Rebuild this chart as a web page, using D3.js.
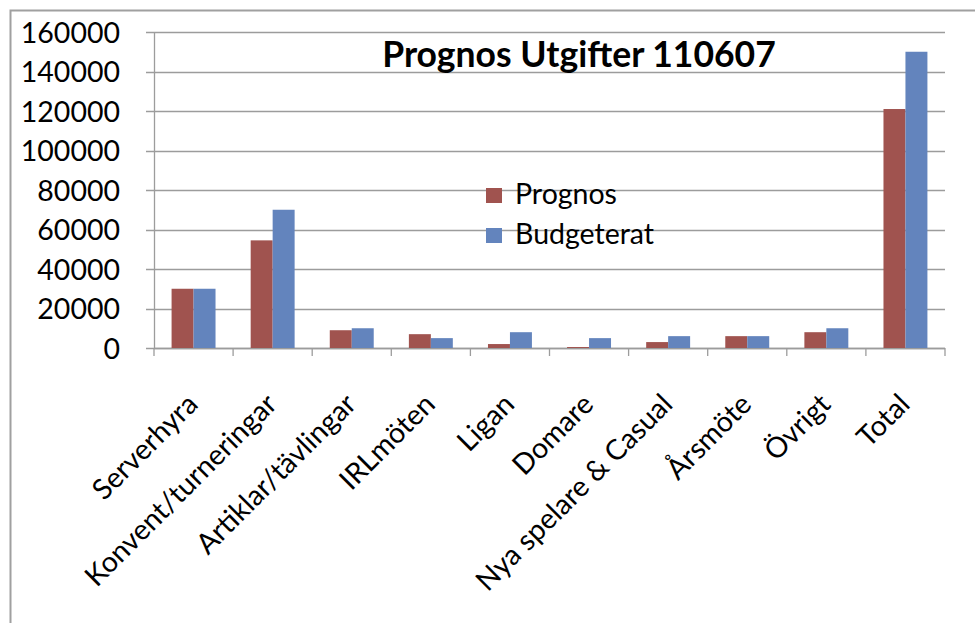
<!DOCTYPE html>
<html>
<head>
<meta charset="utf-8">
<script src="https://cdn.jsdelivr.net/npm/d3@7"></script>
<style>
  body { margin: 0; background: #fff; }
  text { font-family: Lato, "Open Sans", sans-serif; fill: #000; }
</style>
</head>
<body>
<script>
(function()
{
    // data
    var categories = ["Serverhyra", "Konvent/turneringar", "Artiklar/tävlingar", "IRLmöten",
        "Ligan", "Domare", "Nya spelare & Casual", "Årsmöte", "Övrigt", "Total"];
    var prognos = [30000, 54500, 9000, 7000, 2000, 500, 3000, 6000, 8000, 121000];
    var budgeterat = [30000, 70000, 10000, 5000, 8000, 5000, 6000, 6000, 10000, 150000];
    var seriesNames = ["Prognos", "Budgeterat"];
    var seriesColors = ["#A0534F", "#6384BD"];
    var yTicks = [0, 20000, 40000, 60000, 80000, 100000, 120000, 140000, 160000];
    var title = "Prognos Utgifter 110607";

    var w = 975, h = 623;
    var left = 154, right = 945, top = 32, bottom = 348;

    var svg = d3.select("body").append("svg")
        .attr("width", w)
        .attr("height", h);

    // outer frame
    svg.append("rect")
        .attr("x", 10.5).attr("y", 10.5)
        .attr("width", w + 20).attr("height", h + 20)
        .attr("fill", "none")
        .attr("stroke", "#a0a0a0")
        .attr("stroke-width", 2);

    var x = d3.scaleBand().domain(categories).range([left, right]);
    var xs = d3.scaleBand().domain(seriesNames)
        .range([0, x.bandwidth()]).paddingInner(0).paddingOuter(0.8);
    var y = d3.scaleLinear().domain([0, 160000]).range([bottom, top]);

    // gridlines
    svg.append("g").selectAll("line")
        .data(yTicks)
        .enter().append("line")
        .attr("x1", left - 8).attr("x2", right)
        .attr("y1", function(d) { return Math.round(y(d)) + 0.5; })
        .attr("y2", function(d) { return Math.round(y(d)) + 0.5; })
        .attr("stroke", "#9c9c9c")
        .attr("stroke-width", 1.3);

    // y axis
    var yAxis = svg.append("g")
        .attr("transform", "translate(" + left + ",0)")
        .call(d3.axisLeft(y).tickValues(yTicks).tickFormat(d3.format("d")).tickSize(0).tickPadding(34));
    yAxis.select(".domain").attr("stroke", "#9c9c9c").attr("stroke-width", 1.3);
    yAxis.selectAll("text")
        .attr("font-size", "28.5px")
        .attr("font-family", "Lato, sans-serif")
        .attr("fill", "#111")
        .attr("dy", "0.36em");

    // x axis with ticks at category boundaries
    var xg = svg.append("g");
    xg.append("line")
        .attr("x1", left).attr("x2", right)
        .attr("y1", bottom + 0.5).attr("y2", bottom + 0.5)
        .attr("stroke", "#9c9c9c").attr("stroke-width", 1.3);
    xg.selectAll("line.tick")
        .data(categories.concat(["end"]))
        .enter().append("line")
        .attr("class", "tick")
        .attr("x1", function(d, i) { return left + i * x.step(); })
        .attr("x2", function(d, i) { return left + i * x.step(); })
        .attr("y1", bottom).attr("y2", bottom + 8)
        .attr("stroke", "#9c9c9c").attr("stroke-width", 1.3);

    xg.selectAll("text")
        .data(categories)
        .enter().append("text")
        .text(function(d) { return d; })
        .attr("text-anchor", "end")
        .attr("font-size", "28.5px")
        .attr("fill", "#111")
        .attr("transform", function(d) {
            var cx = x(d) + x.bandwidth() / 2 + 6;
            return "translate(" + cx + "," + (bottom + 58) + ") rotate(-45)";
        });

    // bars
    var series = [prognos, budgeterat];
    series.forEach(function(vals, s) {
        svg.append("g").selectAll("rect")
            .data(vals)
            .enter().append("rect")
            .attr("x", function(d, i) { return x(categories[i]) + xs(seriesNames[s]); })
            .attr("y", function(d) { return y(d); })
            .attr("width", xs.bandwidth())
            .attr("height", function(d) { return bottom - y(d); })
            .attr("fill", seriesColors[s]);
    });

    // title
    svg.append("text")
        .text(title)
        .attr("x", 579).attr("y", 67)
        .attr("text-anchor", "middle")
        .attr("font-size", "35.5px")
        .attr("font-weight", "bold");

    // legend
    var legend = svg.append("g").selectAll("g")
        .data(seriesNames)
        .enter().append("g")
        .attr("transform", function(d, i) { return "translate(486," + (188 + i * 40) + ")"; });
    legend.append("rect")
        .attr("width", 16).attr("height", 15)
        .attr("fill", function(d, i) { return seriesColors[i]; });
    legend.append("text")
        .text(function(d) { return d; })
        .attr("x", 29).attr("y", 16)
        .attr("font-size", "28.5px")
        .attr("fill", "#111");
})();
</script>
</body>
</html>
